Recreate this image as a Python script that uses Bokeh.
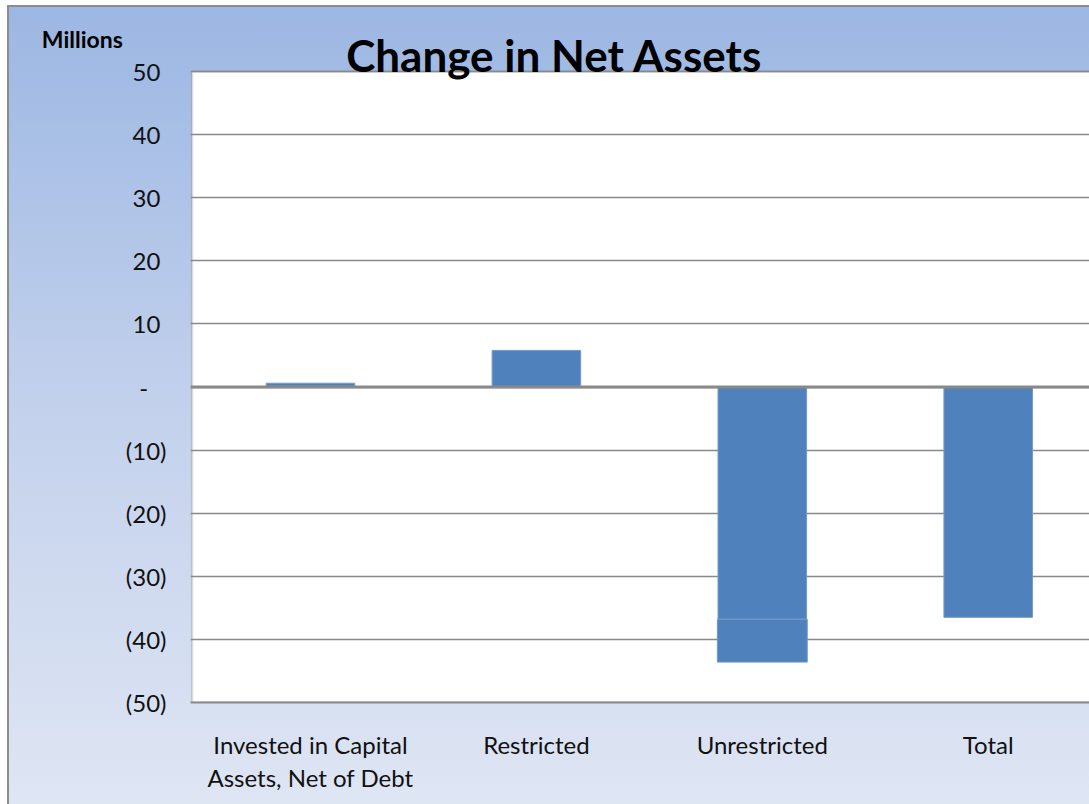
from bokeh.plotting import figure
from bokeh.models import FixedTicker, Span, Label, Range1d, ColumnDataSource, BoxAnnotation
from bokeh.embed import file_html
from bokeh.resources import INLINE

# ---- data ----
categories = ["Invested in Capital\nAssets, Net of Debt", "Restricted", "Unrestricted", "Total"]
main_values = [0.6, 5.8, -36.8, -36.5]
extra_values = [0.0, 0.0, -6.8, 0.0]
y_ticks = [50, 40, 30, 20, 10, 0, -10, -20, -30, -40, -50]
y_tick_labels = ["50\u00a0", "40\u00a0", "30\u00a0", "20\u00a0", "10\u00a0",
                 "-\u00a0\u00a0\u00a0", "(10)", "(20)", "(30)", "(40)", "(50)"]

FONT = "Lato"
BAR = "#4F81BD"
GRID = "#898989"

xs = list(range(len(categories)))
src_main = ColumnDataSource(dict(x=xs, bottom=[0.0] * len(xs), top=main_values))
ex_idx = [i for i, v in enumerate(extra_values) if v != 0]
src_extra = ColumnDataSource(dict(
    x=[xs[i] for i in ex_idx],
    bottom=[main_values[i] for i in ex_idx],
    top=[main_values[i] + extra_values[i] for i in ex_idx],
))

# layout (pixels): frame left 190, top 38, bottom 702, right 1089
X0, X1 = -0.5312, 3.4484
Y0, Y1 = -50, 55.23

p = figure(width=1089, height=804, output_backend="svg", toolbar_location=None,
           x_range=Range1d(X0, X1), y_range=Range1d(Y0, Y1),
           min_border_left=190, min_border_top=38, min_border_right=0, min_border_bottom=102)

p.styles = {
    "background": ("linear-gradient(#8c8c8c, #8c8c8c) 7px 5px / 2px 100% no-repeat, "
                   "linear-gradient(#8c8c8c, #8c8c8c) 7px 5px / 100% 2px no-repeat, "
                   "linear-gradient(to bottom, #9cb7e3 0%, #c3d1ec 50%, #dfe6f4 100%) 9px 7px / 100% 100% no-repeat, "
                   "#ffffff"),
}
p.border_fill_alpha = 0
p.background_fill_alpha = 0
p.outline_line_color = None

# white plot area with border
p.add_layout(BoxAnnotation(left=-0.5246, right=X1 + 1, bottom=-50, top=50,
                           fill_color="white", fill_alpha=1,
                           line_color=GRID, line_width=2.5, level="image"))

# grid
p.xgrid.grid_line_color = None
p.ygrid.ticker = FixedTicker(ticks=y_ticks)
p.ygrid.grid_line_color = GRID
p.ygrid.grid_line_width = 1.6

# bars
p.vbar(x="x", bottom="bottom", top="top", width=0.392, source=src_main,
       fill_color=BAR, line_color="#7399ca", line_width=1)
p.vbar(x="x", bottom="bottom", top="top", width=0.398, source=src_extra,
       fill_color=BAR, line_color="#7399ca", line_width=1)

# zero line
p.add_layout(Span(location=0, dimension="width", line_color=GRID, line_width=3))

# y axis
yax = p.yaxis[0]
yax.ticker = FixedTicker(ticks=y_ticks)
yax.major_label_overrides = {t: l for t, l in zip(y_ticks, y_tick_labels)}
yax.axis_line_color = None
yax.major_tick_line_color = None
yax.minor_tick_line_color = None
yax.major_tick_out = 0
yax.major_tick_in = 0
yax.major_label_standoff = 24
yax.major_label_text_font = FONT
yax.major_label_text_font_size = "24px"
yax.major_label_text_color = "#111111"
yax.axis_label = "Millions"
yax.axis_label_orientation = "horizontal"
yax.axis_label_align = "end"
yax.axis_label_standoff = 0
yax.axis_label_text_font = FONT
yax.axis_label_text_font_size = "23px"
yax.axis_label_text_font_style = "bold"
yax.axis_label_text_color = "black"

# x axis
xax = p.xaxis[0]
xax.ticker = FixedTicker(ticks=xs)
xax.major_label_overrides = {i: c for i, c in zip(xs, categories)}
xax.axis_line_color = GRID
xax.axis_line_width = 2
xax.major_tick_line_color = None
xax.minor_tick_line_color = None
xax.major_tick_out = 0
xax.major_tick_in = 0
xax.major_label_standoff = 27
xax.major_label_text_font = FONT
xax.major_label_text_font_size = "24px"
xax.major_label_text_line_height = 1.15
xax.major_label_text_color = "#111111"

# title
p.add_layout(Label(x=1.08, y=52.6, text="Change in Net Assets", text_align="center",
                   text_baseline="alphabetic", text_font=FONT,
                   text_font_size="44px", text_font_style="bold", text_color="black"))

open("out.html", "w").write(file_html(p, INLINE))
